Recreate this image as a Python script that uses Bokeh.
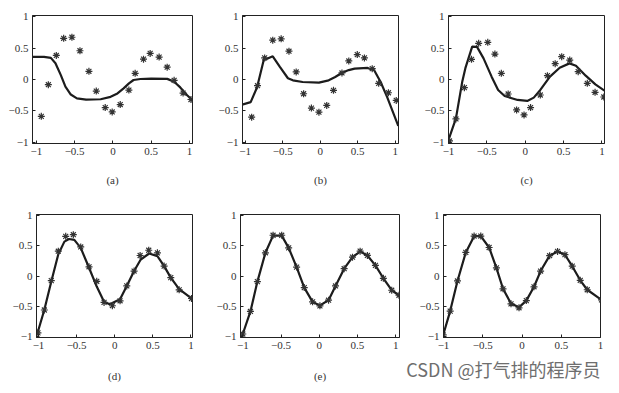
from bokeh.plotting import figure
from bokeh.layouts import column, row
from bokeh.models import FixedTicker, Range1d, Title
from bokeh.embed import file_html
from bokeh.resources import INLINE

# ---------------- data ----------------
ticks = [-1, -0.5, 0, 0.5, 1]
tick_labels = ["−1", "−0.5", "0", "0.5", "1"]
captions = ["(a)", "(b)", "(c)", "(d)", "(e)", None]
watermark = "CSDN @打气排的程序员"

# (a)
a_px = [-0.935, -0.843, -0.739, -0.643, -0.535, -0.43, -0.313, -0.217, -0.1, -0.009,
        0.096, 0.209, 0.291, 0.4, 0.487, 0.604, 0.709, 0.8, 0.917, 1.02]
a_py = [-0.587, -0.083, 0.383, 0.657, 0.673, 0.458, 0.131, -0.185, -0.448, -0.517,
        -0.399, -0.169, 0.099, 0.324, 0.416, 0.357, 0.196, -0.013, -0.217, -0.319]
a_cx = [-1.05, -0.9, -0.81, -0.75, -0.68, -0.62, -0.55, -0.47, -0.35, -0.16, -0.03,
        0.06, 0.14, 0.21, 0.27, 0.36, 0.5, 0.71, 0.8, 0.88, 0.97, 1.04]
a_cy = [0.36, 0.36, 0.345, 0.26, 0.07, -0.115, -0.24, -0.3, -0.32, -0.315, -0.276,
        -0.222, -0.142, -0.062, -0.008, 0.008, 0.015, 0.01, -0.035, -0.126, -0.25, -0.33]

# (b)
b_px = [-0.913, -0.835, -0.74, -0.632, -0.52, -0.416, -0.32, -0.221, -0.117, -0.017,
        0.087, 0.177, 0.29, 0.381, 0.494, 0.589, 0.693, 0.779, 0.909, 1.013]
b_py = [-0.6, -0.099, 0.344, 0.627, 0.648, 0.451, 0.12, -0.227, -0.456, -0.52,
        -0.413, -0.173, 0.104, 0.296, 0.397, 0.344, 0.173, -0.061, -0.211, -0.333]
b_cx = [-1.04, -0.926, -0.84, -0.753, -0.632, -0.537, -0.43, -0.364, -0.234, -0.017,
        0.113, 0.2, 0.286, 0.38, 0.459, 0.632, 0.719, 0.805, 0.892, 1.04]
b_cy = [-0.40, -0.36, -0.12, 0.307, 0.37, 0.2, 0.02, -0.013, -0.04, -0.05,
        -0.013, 0.04, 0.104, 0.15, 0.173, 0.184, 0.147, -0.04, -0.28, -0.74]

# (c)
c_px = [-0.987, -0.903, -0.793, -0.7, -0.607, -0.488, -0.395, -0.311, -0.222, -0.112,
        -0.015, 0.07, 0.197, 0.29, 0.391, 0.476, 0.581, 0.691, 0.81, 0.911, 1.025]
c_py = [-0.979, -0.629, -0.13, 0.321, 0.576, 0.592, 0.406, 0.098, -0.231, -0.485,
        -0.565, -0.448, -0.247, 0.061, 0.252, 0.363, 0.31, 0.125, -0.061, -0.204, -0.279]
c_cx = [-1.0, -0.903, -0.82, -0.78, -0.691, -0.628, -0.543, -0.438, -0.353, -0.268,
        -0.099, 0.027, 0.112, 0.197, 0.323, 0.45, 0.577, 0.662, 0.789, 0.915, 1.034]
c_cy = [-0.963, -0.62, -0.03, 0.18, 0.523, 0.52, 0.337, 0.045, -0.167, -0.263,
        -0.326, -0.342, -0.289, -0.167, 0.045, 0.188, 0.257, 0.22, 0.061, -0.077, -0.178]

# (d)
d_px = [-1.007, -0.923, -0.832, -0.74, -0.643, -0.543, -0.446, -0.337, -0.236, -0.14,
        -0.031, 0.07, 0.158, 0.254, 0.333, 0.446, 0.56, 0.648, 0.735, 0.845, 1.007]
d_py = [-0.943, -0.564, -0.077, 0.411, 0.658, 0.685, 0.482, 0.153, -0.088, -0.438,
        -0.493, -0.411, -0.164, 0.082, 0.34, 0.427, 0.384, 0.164, -0.027, -0.23, -0.373]
d_cx = [-1.007, -0.923, -0.832, -0.74, -0.66, -0.6, -0.53, -0.446, -0.337, -0.236,
        -0.14, -0.074, -0.031, 0.07, 0.158, 0.254, 0.341, 0.451, 0.56, 0.648, 0.735,
        0.845, 1.007]
d_cy = [-0.92, -0.56, -0.09, 0.36, 0.57, 0.614, 0.6, 0.466, 0.137, -0.175,
        -0.427, -0.466, -0.449, -0.384, -0.164, 0.082, 0.274, 0.373, 0.329, 0.164,
        -0.027, -0.219, -0.373]

# (e)
e_px = [-1.0, -0.9, -0.809, -0.704, -0.604, -0.491, -0.4, -0.296, -0.196, -0.087,
        0.009, 0.122, 0.213, 0.326, 0.435, 0.535, 0.63, 0.735, 0.839, 0.948, 1.043]
e_py = [-0.962, -0.588, -0.093, 0.385, 0.676, 0.676, 0.467, 0.148, -0.192, -0.429,
        -0.495, -0.401, -0.165, 0.121, 0.313, 0.412, 0.341, 0.176, -0.038, -0.236, -0.319]
e_cx = [-1.0, -0.9, -0.809, -0.704, -0.604, -0.491, -0.4, -0.296, -0.196, -0.087,
        0.009, 0.122, 0.213, 0.326, 0.435, 0.535, 0.63, 0.735, 0.839, 0.948, 1.043]
e_cy = [-0.962, -0.588, -0.093, 0.385, 0.67, 0.67, 0.467, 0.148, -0.192, -0.429,
        -0.49, -0.401, -0.165, 0.121, 0.313, 0.405, 0.341, 0.176, -0.038, -0.236, -0.319]

# (f)
f_px = [-1.004, -0.915, -0.822, -0.716, -0.61, -0.525, -0.419, -0.326, -0.242, -0.14,
        -0.038, 0.055, 0.153, 0.237, 0.352, 0.453, 0.547, 0.64, 0.742, 0.831, 1.013]
f_py = [-0.978, -0.582, -0.082, 0.391, 0.663, 0.663, 0.473, 0.136, -0.212, -0.462,
        -0.527, -0.408, -0.179, 0.082, 0.337, 0.408, 0.353, 0.163, -0.071, -0.228, -0.397]
f_cx = [-1.004, -0.915, -0.822, -0.716, -0.61, -0.525, -0.419, -0.326, -0.242, -0.14,
        -0.038, 0.055, 0.153, 0.237, 0.352, 0.453, 0.547, 0.64, 0.742, 0.831, 1.013]
f_cy = [-0.978, -0.582, -0.082, 0.391, 0.66, 0.66, 0.473, 0.136, -0.212, -0.455,
        -0.52, -0.408, -0.179, 0.082, 0.337, 0.405, 0.353, 0.163, -0.071, -0.228, -0.397]

SERIF = "Liberation Serif"
INK = "#1c1c1c"


def panel(px, py, cx, cy, caption, xr, width, height, bl, br, bt, bb, cap_standoff):
    p = figure(width=width, height=height, output_backend="svg", toolbar_location=None,
               x_range=Range1d(*xr), y_range=Range1d(-1.02, 1.02),
               min_border_left=bl, min_border_right=br,
               min_border_top=bt, min_border_bottom=bb)
    p.background_fill_color = "white"
    p.border_fill_color = "white"
    p.grid.visible = False
    p.outline_line_color = "#222222"
    p.outline_line_width = 1
    for ax in (p.xaxis[0], p.yaxis[0]):
        ax.ticker = FixedTicker(ticks=ticks)
        ax.major_label_overrides = dict(zip(ticks, tick_labels))
        ax.major_tick_in = 3
        ax.major_tick_out = 0
        ax.minor_tick_in = 0
        ax.minor_tick_out = 0
        ax.axis_line_color = "#222222"
        ax.major_tick_line_color = "#222222"
        ax.major_label_text_font = SERIF
        ax.major_label_text_font_size = "11px"
        ax.major_label_text_color = "#333333"
        ax.major_label_standoff = 4
    if caption:
        p.xaxis.axis_label = caption
        p.xaxis.axis_label_text_font = SERIF
        p.xaxis.axis_label_text_font_style = "normal"
        p.xaxis.axis_label_text_font_size = "11px"
        p.xaxis.axis_label_text_color = "#333333"
        p.xaxis.axis_label_standoff = cap_standoff
    p.line(cx, cy, line_width=2.2, line_color=INK)
    p.scatter(px, py, marker="asterisk", size=7, line_color="#333333", line_width=1.2)
    return p


pa = panel(a_px, a_py, a_cx, a_cy, captions[0], (-1.05, 1.04), 215, 206, 32, 23, 15, 63, 16)
pb = panel(b_px, b_py, b_cx, b_cy, captions[1], (-1.035, 1.043), 206, 206, 23, 23, 15, 63, 16)
pc = panel(c_px, c_py, c_cx, c_cy, captions[2], (-1.0, 1.034), 190, 206, 23, 7, 15, 63, 16)
pd = panel(d_px, d_py, d_cx, d_cy, captions[3], (-1.026, 1.02), 213, 179, 36, 21, 8, 48, 18)
pe = panel(e_px, e_py, e_cx, e_cy, captions[4], (-1.03, 1.05), 191, 179, 26, 5, 8, 48, 18)
pf = panel(f_px, f_py, f_cx, f_cy, captions[5], (-1.0, 1.0), 207, 179, 39, 11, 8, 48, 18)

wm = Title(text=watermark, align="right", text_font="Noto Sans CJK SC",
           text_font_size="18px", text_font_style="normal", text_color="#6e6e6e",
           standoff=4)
pf.add_layout(wm, "below")

layout = column(row(pa, pb, pc, spacing=0), row(pd, pe, pf, spacing=0), spacing=0)

open("out.html", "w").write(file_html(layout, INLINE))
